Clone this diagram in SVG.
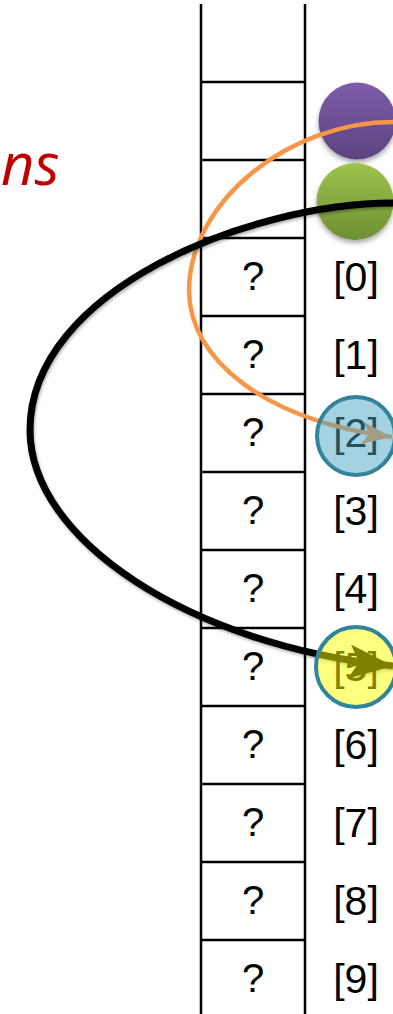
<svg xmlns="http://www.w3.org/2000/svg" width="393" height="1014" viewBox="0 0 393 1014">
<style>
.grid{stroke:#000;stroke-width:2.5;fill:none}
.q{font-family:"Liberation Sans",Arial,sans-serif;font-size:40px;fill:#000;text-anchor:middle}
.lbl{font-family:"Liberation Sans",Arial,sans-serif;font-size:41px;fill:#000;text-anchor:middle}
.title{font-family:"Open Sans","Liberation Sans",sans-serif;font-style:italic;font-size:58px;fill:#C00000}
.hl{stroke:#31849B;stroke-width:4}
</style>
<defs>
<linearGradient id="gp" x1="0" y1="0" x2="0" y2="1"><stop offset="0" stop-color="#7E5CAA"/><stop offset="1" stop-color="#5C4380"/></linearGradient>
<linearGradient id="gg" x1="0" y1="0" x2="0" y2="1"><stop offset="0" stop-color="#9DC44C"/><stop offset="1" stop-color="#6E8F34"/></linearGradient>
<filter id="sh" x="-30%" y="-30%" width="160%" height="170%"><feDropShadow dx="0" dy="3" stdDeviation="2.5" flood-color="#000" flood-opacity="0.35"/></filter>
<filter id="lsh" x="-10%" y="-10%" width="120%" height="120%"><feDropShadow dx="1" dy="2" stdDeviation="1.5" flood-color="#000" flood-opacity="0.3"/></filter>
<marker id="ao" markerUnits="userSpaceOnUse" markerWidth="32" markerHeight="24" refX="30" refY="11" orient="auto"><path d="M0,0 L30,11 L0,22 L7,11 Z" fill="#F79646"/></marker>
<marker id="ab" markerUnits="userSpaceOnUse" markerWidth="46" markerHeight="36" refX="44" refY="17" orient="auto"><path d="M0,0 L44,17 L0,34 L10,17 Z" fill="#000"/></marker>
</defs>
<text class="title" x="1" y="185">ns</text>
<g id="stack">
<line class="grid" x1="201" y1="4" x2="201" y2="1014"/>
<line class="grid" x1="305" y1="4" x2="305" y2="1014"/>
<path class="grid" d="M201,82H305M201,160H305M201,238H305M201,316H305M201,394H305M201,472H305M201,550H305M201,628H305M201,706H305M201,784H305M201,862H305M201,940H305"/>
</g>
<g id="cells">
<text class="q" x="253" y="290">?</text>
<text class="q" x="253" y="368">?</text>
<text class="q" x="253" y="446">?</text>
<text class="q" x="253" y="524">?</text>
<text class="q" x="253" y="602">?</text>
<text class="q" x="253" y="680">?</text>
<text class="q" x="253" y="758">?</text>
<text class="q" x="253" y="836">?</text>
<text class="q" x="253" y="914">?</text>
<text class="q" x="253" y="992">?</text>
</g>
<g id="labels">
<text class="lbl" x="356" y="291">[0]</text>
<text class="lbl" x="356" y="369">[1]</text>
<text class="lbl" x="356" y="447">[2]</text>
<text class="lbl" x="356" y="525">[3]</text>
<text class="lbl" x="356" y="603">[4]</text>
<text class="lbl" x="356" y="681">[5]</text>
<text class="lbl" x="356" y="759">[6]</text>
<text class="lbl" x="356" y="837">[7]</text>
<text class="lbl" x="356" y="915">[8]</text>
<text class="lbl" x="356" y="993">[9]</text>
</g>
<g id="purple"><circle cx="357" cy="121" r="38.5" fill="url(#gp)" filter="url(#sh)"/></g>
<g id="green"><circle cx="355" cy="201.5" r="38.5" fill="url(#gg)" filter="url(#sh)"/></g>
<g id="connectors">
<path d="M393,122 C290,122 190,200 189,290 C189,360 265,420 392,437" fill="none" stroke="#F79646" stroke-width="4.5" marker-end="url(#ao)"/>
<path d="M393,203 C250,203 30,290 30,430 C30,540 190,645 393,666" fill="none" stroke="#000" stroke-width="7" marker-end="url(#ab)" filter="url(#lsh)"/>
</g>
<g id="hl2"><circle class="hl" cx="356" cy="436" r="39" fill="#47A3C2" fill-opacity="0.49"/></g>
<g id="hl5"><circle class="hl" cx="356" cy="667" r="40" fill="#FFFF00" fill-opacity="0.5"/></g>
</svg>
